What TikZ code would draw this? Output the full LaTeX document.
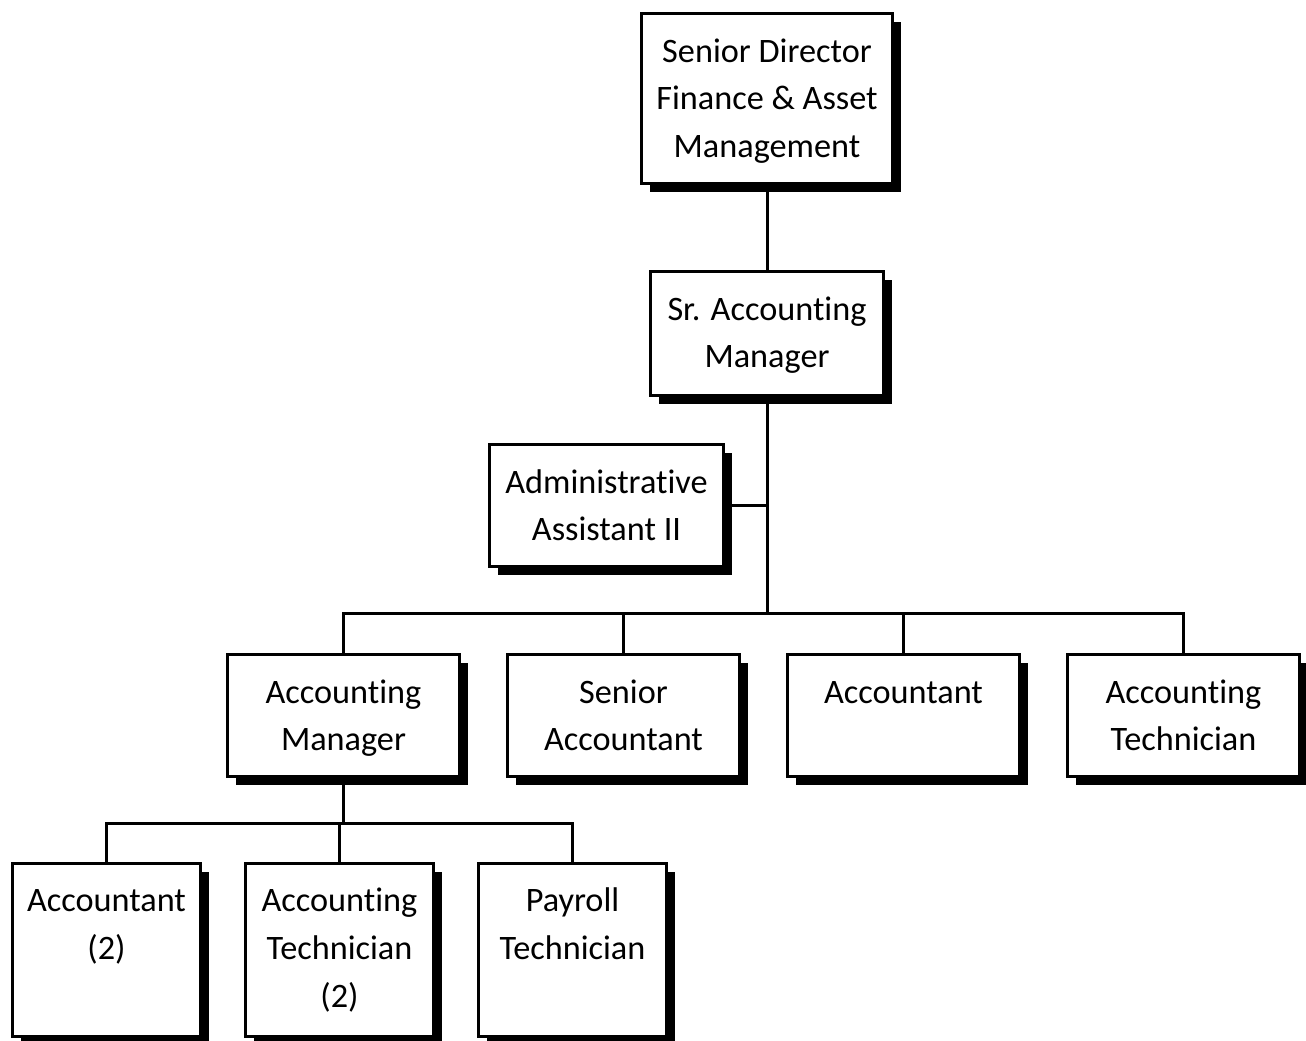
\documentclass[tikz,border=0pt]{standalone}
\usepackage{fontspec}
\setmainfont{Carlito}[Ligatures=NoCommon]
\usetikzlibrary{positioning, calc, shadows}

% text sits at the top of each box
\newcommand{\orgtext}[3]{\parbox[c][#2][t]{#1}{\centering\rule{0pt}{0.97cm}#3}}

\begin{document}
\begin{tikzpicture}[
box/.style={rectangle, draw=black, line width=0.06cm, fill=white, inner sep=0pt, font=\fontsize{19.5}{27.3}\selectfont, drop shadow={shadow xshift=0.17cm, shadow yshift=-0.17cm, fill=black, opacity=1}},
conn/.style={line width=0.06cm, black}
]
\useasboundingbox (0,0) rectangle (26.12,-20.8);

\node[box] (dir) at (15.34,-1.97) {\orgtext{5.02cm}{3.40cm}{Senior Director\\Finance \& Asset\\Management}};
\node[box] (sram) at (15.34,-6.67) {\orgtext{4.66cm}{2.48cm}{Sr. Accounting\\Manager}};
\node[box] (admin) at (12.13,-10.11) {\orgtext{4.68cm}{2.44cm}{Administrative\\Assistant II}};

\node[box] (am) at (6.87,-14.31) {\orgtext{4.64cm}{2.44cm}{Accounting\\Manager}};
\node[box, right=0.9cm of am] (sa) {\orgtext{4.64cm}{2.44cm}{Senior\\Accountant}};
\node[box, right=0.9cm of sa] (acct) {\orgtext{4.64cm}{2.44cm}{Accountant}};
\node[box, right=0.9cm of acct] (tech) {\orgtext{4.64cm}{2.44cm}{Accounting\\Technician}};

\node[box] (acct2) at (2.13,-18.99) {\orgtext{3.76cm}{3.46cm}{Accountant\\(2)}};
\node[box, right=0.84cm of acct2] (tech2) {\orgtext{3.76cm}{3.46cm}{Accounting\\Technician\\(2)}};
\node[box, right=0.84cm of tech2] (pay) {\orgtext{3.76cm}{3.46cm}{Payroll\\Technician}};

\coordinate (hub) at ($(sram.south)+(0,-4.32)$);
\coordinate (sub) at ($(am.south)+(0,-0.9)$);

\draw[conn] (dir) -- (sram);
\draw[conn] (sram.south) -- (hub);
\draw[conn] (admin.east) -- (admin.east -| hub);
\foreach \n in {am,sa,acct,tech}
  \draw[conn] (\n.north) |- (hub);
\draw[conn] (am.south) -- (sub);
\foreach \n in {acct2,tech2,pay}
  \draw[conn] (\n.north) |- (sub);
\end{tikzpicture}
\end{document}
